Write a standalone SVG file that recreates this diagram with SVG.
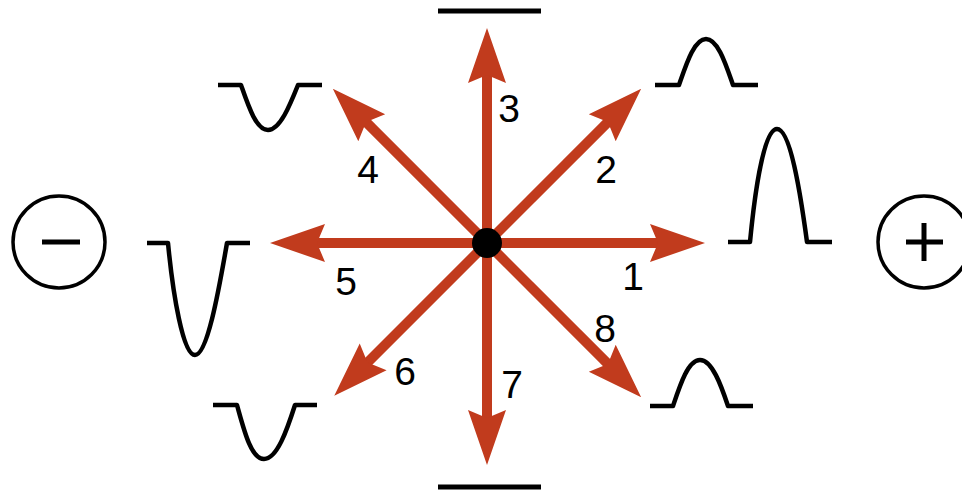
<svg xmlns="http://www.w3.org/2000/svg" width="962" height="491" viewBox="0 0 962 491">
<style>
.shaft{stroke:#C13B1D;stroke-width:10;fill:none}
.head{fill:#C13B1D;stroke:none}
.wave{fill:none;stroke:#000;stroke-width:4.5;stroke-linejoin:round}
.bar{stroke:#000;stroke-width:5}
.ring{fill:none;stroke:#000;stroke-width:3.5}
.lbl{font-family:"Liberation Sans",Arial,sans-serif;font-size:39px;fill:#000;text-anchor:middle}
</style>
<rect width="962" height="491" fill="#fff"/>
<g id="minus">
<circle class="ring" cx="59" cy="242" r="46"/>
<line class="bar" x1="42" y1="242" x2="80" y2="242" stroke-width="4.5"/>
</g>
<g id="plus">
<circle class="ring" cx="924" cy="242" r="46"/>
<line class="bar" x1="906" y1="242" x2="943" y2="242" stroke-width="4.5"/>
<line class="bar" x1="924" y1="223" x2="924" y2="261" stroke-width="4.5"/>
</g>
<g id="wave-top"><line class="bar" x1="438" y1="11" x2="541" y2="11"/></g>
<g id="wave-bottom"><line class="bar" x1="438" y1="487" x2="541" y2="487"/></g>
<g id="wave-1"><path class="wave" d="M728,242 H750 C755,190 764,129 777,129 C790,129 800,190 807,242 H832"/></g>
<g id="wave-2"><path class="wave" d="M655,85 H679 C686,65 694,39 706,39 C718,39 726,65 733,85 H758"/></g>
<g id="wave-8"><path class="wave" d="M650,406 H673 C680,385 688,360 700,360 C712,360 721,385 728,406 H753"/></g>
<g id="wave-4"><path class="wave" d="M218,85 H241 C248,105 256,130 268,130 C280,130 290,105 298,85 H322"/></g>
<g id="wave-6"><path class="wave" d="M213,405 H237 C244,430 251,459 264,459 C277,459 287,430 295,405 H317"/></g>
<g id="wave-5"><path class="wave" d="M147,243 H168 C173,295 183,355 195,355 C207,355 218,295 227,243 H250"/></g>
<g id="connectors">
<g transform="translate(487 243) rotate(0)"><line class="shaft" x1="0" y1="0" x2="178" y2="0"/><path class="head" d="M218,0 l-55,-19 l8,19 l-8,19 z"/></g>
<g transform="translate(487 243) rotate(-45)"><line class="shaft" x1="0" y1="0" x2="178" y2="0"/><path class="head" d="M218,0 l-55,-19 l8,19 l-8,19 z"/></g>
<g transform="translate(487 243) rotate(-90)"><line class="shaft" x1="0" y1="0" x2="175" y2="0"/><path class="head" d="M215,0 l-55,-19 l8,19 l-8,19 z"/></g>
<g transform="translate(487 243) rotate(-135)"><line class="shaft" x1="0" y1="0" x2="178" y2="0"/><path class="head" d="M218,0 l-55,-19 l8,19 l-8,19 z"/></g>
<g transform="translate(487 243) rotate(180)"><line class="shaft" x1="0" y1="0" x2="177" y2="0"/><path class="head" d="M217,0 l-55,-19 l8,19 l-8,19 z"/></g>
<g transform="translate(487 243) rotate(135)"><line class="shaft" x1="0" y1="0" x2="176" y2="0"/><path class="head" d="M216,0 l-55,-19 l8,19 l-8,19 z"/></g>
<g transform="translate(487 243) rotate(90)"><line class="shaft" x1="0" y1="0" x2="182" y2="0"/><path class="head" d="M222,0 l-55,-19 l8,19 l-8,19 z"/></g>
<g transform="translate(487 243) rotate(45)"><line class="shaft" x1="0" y1="0" x2="178" y2="0"/><path class="head" d="M218,0 l-55,-19 l8,19 l-8,19 z"/></g>
</g>
<g id="center"><circle cx="487" cy="243" r="15" fill="#000"/></g>
<g id="labels">
<text class="lbl" x="633" y="290">1</text>
<text class="lbl" x="606" y="183">2</text>
<text class="lbl" x="509" y="122">3</text>
<text class="lbl" x="368" y="183">4</text>
<text class="lbl" x="346" y="295">5</text>
<text class="lbl" x="405" y="385">6</text>
<text class="lbl" x="512" y="398">7</text>
<text class="lbl" x="605" y="342">8</text>
</g>
</svg>
